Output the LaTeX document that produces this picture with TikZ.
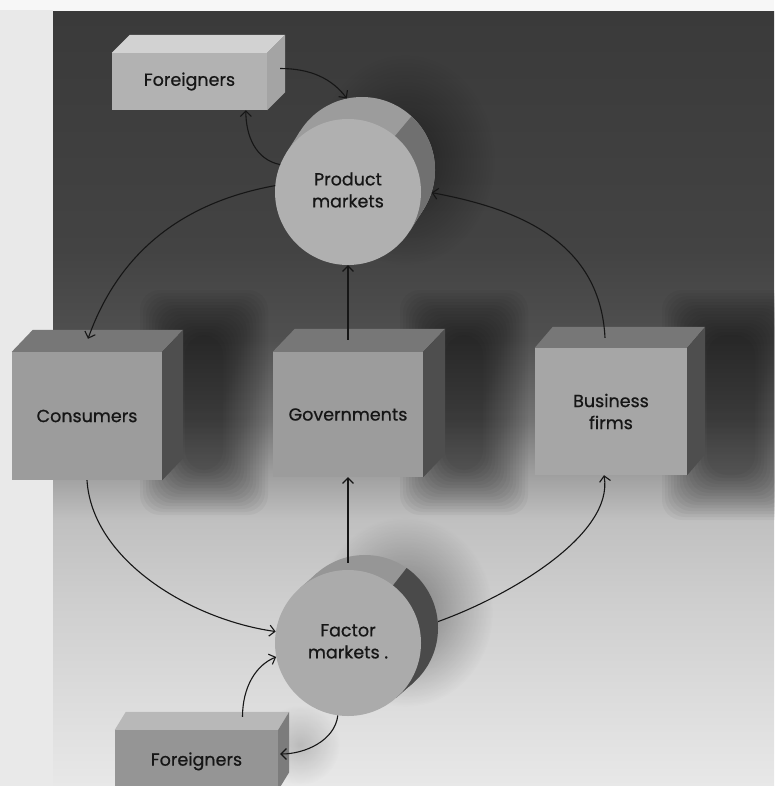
\documentclass[tikz,border=0pt]{standalone}
\usepackage{fontspec}
\setmainfont{Poppins}
\newfontfamily\lblfont{Poppins}[FakeBold=0.7]
\usetikzlibrary{arrows.meta,calc,fadings}
\definecolor{ink}{HTML}{161616}
\definecolor{stripL}{HTML}{E9E9E9}
\definecolor{stripT}{HTML}{F7F7F7}
\definecolor{bgA}{HTML}{E8E8E8}
\definecolor{bgB}{HTML}{DCDCDC}
\definecolor{bgC}{HTML}{CECECE}
\definecolor{bgD}{HTML}{C0C0C0}
\definecolor{bgE}{HTML}{9C9C9C}
\definecolor{bgF}{HTML}{747474}
\definecolor{bgG}{HTML}{505050}
\definecolor{bgH}{HTML}{434343}
\definecolor{bgI}{HTML}{3A3A3A}
\definecolor{ftFront}{HTML}{B2B2B2}
\definecolor{ftTop}{HTML}{D2D2D2}
\definecolor{ftSide}{HTML}{A4A4A4}
\definecolor{bxFront}{HTML}{9C9C9C}
\definecolor{bxTop}{HTML}{777777}
\definecolor{bxSide}{HTML}{4E4E4E}
\definecolor{fbFront}{HTML}{959595}
\definecolor{fbTop}{HTML}{B8B8B8}
\definecolor{fbSide}{HTML}{7C7C7C}
\definecolor{pmFront}{HTML}{B0B0B0}
\definecolor{pmLight}{HTML}{9C9C9C}
\definecolor{pmDark}{HTML}{707070}
\definecolor{fmFront}{HTML}{ABABAB}
\definecolor{fmLight}{HTML}{969696}
\definecolor{fmDark}{HTML}{4A4A4A}
\pgfdeclareverticalshading{bgshade}{100bp}{color(0bp)=(bgA); color(25bp)=(bgA); color(30.6bp)=(bgB); color(37bp)=(bgC); color(42.2bp)=(bgD); color(45.4bp)=(bgE); color(48.6bp)=(bgF); color(53.8bp)=(bgG); color(59.6bp)=(bgH); color(75bp)=(bgI); color(100bp)=(bgI)}
\tikzfading[name=softblob, inner color=transparent!30, outer color=transparent!100]
\newcommand{\mycubefaces}[5]{%
  \fill[#4] (#1.north west) -- (#1.north east) -- ($(#1.north east)+(#2,#3)$) -- ($(#1.north west)+(#2,#3)$) -- cycle;
  \fill[#5] (#1.north east) -- (#1.south east) -- ($(#1.south east)+(#2,#3)$) -- ($(#1.north east)+(#2,#3)$) -- cycle;
}
\newcommand{\mysoftshadow}[4]{%
  \foreach \i in {0,...,15}{%
    \fill[black, opacity=0.035, rounded corners=20pt] ({#1+\i*3},{#2+\i*3}) rectangle ({#3-\i*3},{#4-\i*3});
  }%
}
\tikzset{
  lbl/.style={font=\lblfont\fontsize{17.5}{22}\selectfont, text=ink, align=center},
  face/.style={inner sep=0pt, lbl},
  disc/.style={circle, minimum size=146pt, inner sep=0pt, lbl},
  flow/.style={draw=ink, line width=1.1pt, -{Straight Barb[length=5.5pt,width=11pt]}},
  shadowblob/.style={fill=black, opacity=#1, path fading=softblob},
}
\begin{document}
\begin{tikzpicture}[x=1pt,y=-1pt]
\useasboundingbox (0,0) rectangle (774,786);
% background
\fill[stripT] (0,0) rectangle (774,786);
\fill[stripL] (0,10) rectangle (53,786);
\shade[shading=bgshade] (53,12) rectangle (774,786);
% soft shadows
\mysoftshadow{140}{290}{268}{515}
\mysoftshadow{400}{290}{528}{515}
\mysoftshadow{662}{290}{800}{520}
\fill[shadowblob=0.65] (405,160) ellipse [x radius=90pt, y radius=105pt];
\fill[shadowblob=0.6] (405,612) ellipse [x radius=88pt, y radius=95pt];
\fill[shadowblob=0.25] (300,745) ellipse [x radius=40pt, y radius=40pt];
% boxes
\node[face, fill=ftFront, minimum width=155pt, minimum height=57pt] (forT) at (189.5,81.5) {Foreigners};
\mycubefaces{forT}{18}{-18}{ftTop}{ftSide}
\node[face, fill=bxFront, minimum width=150pt, minimum height=128pt] (cons) at (87,416) {Consumers};
\mycubefaces{cons}{21}{-22}{bxTop}{bxSide}
\node[face, fill=bxFront, minimum width=150pt, minimum height=125pt] (gov) at (348,414.5) {Governments};
\mycubefaces{gov}{22}{-23}{bxTop}{bxSide}
\node[face, fill=bxFront!90!white, minimum width=152pt, minimum height=127pt] (bus) at (611,411.5) {Business\\firms};
\mycubefaces{bus}{18}{-21}{bxTop}{bxSide}
\node[face, fill=fbFront, minimum width=163pt, minimum height=60pt, text depth=0pt] (forB) at (196.5,760) {\raisebox{2pt}{Foreigners}};
\mycubefaces{forB}{11}{-18}{fbTop}{fbSide}
% product markets cylinder
\coordinate (prodC) at (348,192);
\coordinate (prodBC) at (362,170);
\begin{scope}
  \fill[pmLight] (prodBC) circle (73pt);
  \fill[pmLight] ($(prodC)+(61.6,39.2)$) -- ($(prodBC)+(61.6,39.2)$) -- ($(prodBC)+(-61.6,-39.2)$) -- ($(prodC)+(-61.6,-39.2)$) -- cycle;
  \clip ($(prodC)+(50:300pt)$) -- ($(prodC)+(-40:300pt)$) -- ($(prodC)+(230:300pt)$) -- cycle;
  \fill[pmDark] (prodBC) circle (73pt);
  \fill[pmDark] ($(prodC)+(61.6,39.2)$) -- ($(prodBC)+(61.6,39.2)$) -- ($(prodBC)+(-61.6,-39.2)$) -- ($(prodC)+(-61.6,-39.2)$) -- cycle;
\end{scope}
\node[disc] (prodB) at (prodBC) {};
\node[disc, fill=pmFront] (prod) at (prodC) {\raisebox{12.5pt}{\begin{tabular}{@{}c@{}}Product\\markets\end{tabular}}};
% factor markets cylinder
\coordinate (facC) at (348,643);
\coordinate (facBC) at (365,628);
\begin{scope}
  \fill[fmLight] (facBC) circle (73pt);
  \fill[fmLight] ($(facC)+(48.3,54.7)$) -- ($(facBC)+(48.3,54.7)$) -- ($(facBC)+(-48.3,-54.7)$) -- ($(facC)+(-48.3,-54.7)$) -- cycle;
  \clip ($(facC)+(52:300pt)$) -- ($(facC)+(-38:300pt)$) -- ($(facC)+(232:300pt)$) -- cycle;
  \fill[fmDark] (facBC) circle (73pt);
  \fill[fmDark] ($(facC)+(48.3,54.7)$) -- ($(facBC)+(48.3,54.7)$) -- ($(facBC)+(-48.3,-54.7)$) -- ($(facC)+(-48.3,-54.7)$) -- cycle;
\end{scope}
\node[disc] (facB) at (facBC) {};
\node[disc, fill=fmFront] (fac) at (facC) {\raisebox{-10pt}{\begin{tabular}{@{}c@{}}Factor\\markets~.\end{tabular}}};
% connector end points on visible faces
\coordinate (forTside) at ($(forT.east)+(13,-13)$);
\coordinate (consTop) at ($(cons.north)+(1,-13)$);
\coordinate (govTop) at ($(gov.north)+(0,-12)$);
\coordinate (busTop) at ($(bus.north)+(-6,-10)$);
\coordinate (busBot) at ($(bus.south)+(-7,0)$);
\coordinate (facTop) at ($(fac.north)+(0,-7)$);
\coordinate (forBTop) at ($(forB.north)+(46,-13)$);
\coordinate (forBSide) at ($(forB.east)+(2,-6)$);
% connectors
\draw[flow] (forTside) .. controls +(30,0) and +(-15,-20) .. (prodB.102);
\draw[flow] (prod.158) .. controls +(-25,-5) and +(0,25) .. (forT.-27);
\draw[flow] (prod.175) .. controls +(-110,20) and +(25,-70) .. (consTop);
\draw[flow] (govTop) -- (prod.south);
\draw[flow] (busTop) .. controls +(-5,-100) and +(80,15) .. (prodB.-18);
\draw[flow] (cons.south) .. controls +(5,80) and +(-85,-12) .. (fac.171);
\draw[flow] (facTop) -- (gov.south);
\draw[flow] (facB.5) .. controls +(70,-25) and +(10,60) .. (busBot);
\draw[flow] (forBTop) .. controls +(0,-30) and +(-20,8) .. (fac.191);
\draw[flow] (fac.-98) .. controls +(-3,25) and +(25,0) .. (forBSide);
\end{tikzpicture}
\end{document}
